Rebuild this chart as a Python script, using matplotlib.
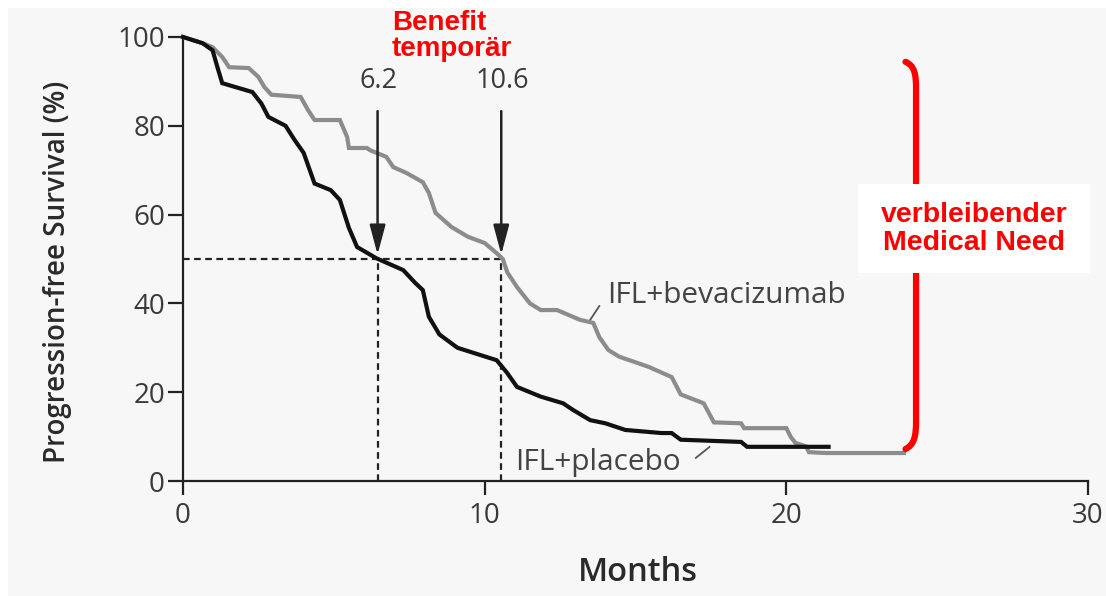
import matplotlib
matplotlib.use('Agg')
import matplotlib.pyplot as plt
from matplotlib.patches import Rectangle, PathPatch
from matplotlib.path import Path

# ---- data ----
months_beva = [0, 0.65, 0.98, 1.3, 1.53, 2.18, 2.5, 2.7, 2.93, 3.9, 4.14, 4.36, 5.2, 5.44, 5.5,
               6.1, 6.2, 6.74, 6.97, 7.4, 7.95, 8.15, 8.37, 8.9, 9.45, 10.0, 10.4, 10.6, 10.75,
               11.07, 11.5, 11.86, 12.4, 13.16, 13.6, 13.8, 14.1, 14.46, 15.44, 16.2, 16.5,
               17.26, 17.6, 18.5, 18.6, 20.0, 20.15, 20.3, 20.65, 20.75, 21.3, 23.9]
pfs_beva = [100, 98.6, 97.7, 95.5, 93.2, 93, 91, 88.7, 87, 86.5, 83.6, 81.3, 81.3, 77.5, 75,
            75, 74.5, 73, 70.7, 69.4, 67.3, 64.9, 60.4, 57.2, 55, 53.6, 51.3, 50, 47,
            43.7, 40, 38.5, 38.5, 36.3, 35.6, 32.4, 29.5, 28, 25.7, 23.4, 19.5,
            17.5, 13.2, 13, 11.9, 11.9, 9.9, 8.6, 7.8, 6.5, 6.3, 6.3]

months_plac = [0, 0.65, 0.98, 1.15, 1.3, 2.3, 2.6, 2.83, 3.4, 3.7, 4.0, 4.36, 4.9, 5.2, 5.5,
               5.77, 6.1, 6.4, 7.3, 7.7, 7.95, 8.15, 8.5, 9.1, 10.4, 10.75, 11.07, 11.86,
               12.6, 12.93, 13.5, 14.0, 14.66, 15.86, 16.2, 16.5, 18.5, 18.7, 21.4]
pfs_plac = [100, 98.6, 97, 93, 89.6, 87.6, 85, 82, 80, 76.8, 73.9, 67, 65.5, 63.3, 57,
            52.7, 51.4, 50.2, 47.5, 44.6, 43, 37, 33, 30, 27.2, 24.3, 21.2, 19,
            17.5, 16, 13.7, 13, 11.5, 10.8, 10.8, 9.3, 8.8, 7.7, 7.7]

median_labels = ['6.2', '10.6']
median_pos = [6.45, 10.55]
x_ticks = [0, 10, 20, 30]
y_ticks = [0, 20, 40, 60, 80, 100]

W, H = 1106, 596
fig = plt.figure(figsize=(W / 100, H / 100), dpi=100, facecolor='white')
fig.patches.append(Rectangle((8 / W, 0), 1, 1 - 8 / H, transform=fig.transFigure,
                             facecolor='#f7f7f7', edgecolor='none', zorder=-10))

x0, x1, y0, y1 = 183, 1088, 481, 37
ax = fig.add_axes([x0 / W, 1 - y0 / H, (x1 - x0) / W, (y0 - y1) / H])
ax.patch.set_alpha(0)

FONT = 'Open Sans'
txtc = '#3a3a3a'

ax.plot(months_beva, pfs_beva, color='#8c8c8c', lw=3.0, solid_joinstyle='miter', clip_on=False, zorder=3)
ax.plot(months_plac, pfs_plac, color='#111111', lw=3.0, solid_joinstyle='miter', clip_on=False, zorder=4)

# median dashed lines
ax.plot([0, median_pos[1]], [50, 50], color='#222', lw=1.6, ls=(0, (3, 2)), zorder=2)
for m in median_pos:
    ax.plot([m, m], [0, 50], color='#222', lw=1.6, ls=(0, (3, 2)), zorder=2)

# arrows + labels
for m, lab in zip(median_pos, median_labels):
    ax.annotate('', xy=(m, 51), xytext=(m, 83.3),
                arrowprops=dict(arrowstyle='-|>,head_length=1.2,head_width=0.32',
                                mutation_scale=15, lw=1.8, color='#222',
                                shrinkA=0, shrinkB=0), zorder=5)
    ax.text(m + 0.03, 90.2, lab, ha='center', va='center', fontsize=19.5,
            family=FONT, color=txtc)

# curve labels with leaders
ax.text(14.05, 40.1, 'IFL+bevacizumab', ha='left', va='baseline', fontsize=21.5,
        family=FONT, color='#444')
ax.plot([13.45, 13.8], [35.8, 39.4], color='#555', lw=1.3)
ax.text(11.0, 2.5, 'IFL+placebo', ha='left', va='baseline', fontsize=21.5,
        family=FONT, color='#444')
ax.plot([17.0, 17.45], [5.2, 7.66], color='#555', lw=1.3)

# axes styling
ax.set_xlim(0, 30)
ax.set_ylim(0, 100)
ax.set_xticks(x_ticks)
ax.set_yticks(y_ticks)
for s in ['top', 'right']:
    ax.spines[s].set_visible(False)
for s in ['left', 'bottom']:
    ax.spines[s].set_linewidth(1.6)
    ax.spines[s].set_color('#222')
ax.tick_params(axis='x', length=10, width=1.6, color='#222', pad=5,
               labelsize=20, labelcolor=txtc)
ax.tick_params(axis='y', length=11, width=1.6, color='#222', pad=2,
               labelsize=20, labelcolor=txtc)
for t in ax.get_xticklabels() + ax.get_yticklabels():
    t.set_family(FONT)

ax.set_ylabel('Progression-free Survival (%)', fontsize=20, family=FONT,
              weight='semibold', color='#2a2a2a')
ax.yaxis.set_label_coords(-0.139, 0.47)
ax.yaxis.label.set_va('center')
ax.set_xlabel('Months', fontsize=23.5, family=FONT, weight='semibold', color='#2a2a2a')
ax.xaxis.set_label_coords(0.503, -0.207)
ax.xaxis.label.set_va('center')

# red brace
verts = [(23.95, 94.4), (24.25, 93.6), (24.3, 91.5), (24.3, 88.5),
         (24.3, 13.5), (24.3, 10.2), (24.25, 8.2), (23.95, 7.2)]
codes = [Path.MOVETO, Path.CURVE4, Path.CURVE4, Path.CURVE4,
         Path.LINETO, Path.CURVE4, Path.CURVE4, Path.CURVE4]
ax.add_patch(PathPatch(Path(verts, codes), facecolor='none', edgecolor='#ff0000',
                       lw=4.5, capstyle='round', clip_on=False, zorder=6))

# white box with red text
fig.patches.append(Rectangle((858 / W, 1 - 273 / H), 232 / W, 89 / H,
                             transform=fig.transFigure, facecolor='white',
                             edgecolor='none', zorder=7))
fig.text(974 / W, 1 - 229 / H, 'verbleibender\nMedical Need', ha='center', va='center',
         fontsize=20.5, family='Liberation Sans', weight='bold', color='#ff0000',
         linespacing=1.1, zorder=8)
fig.text(392 / W, 1 - 36 / H, 'Benefit\ntemporär', ha='left', va='center',
         fontsize=20, family='Liberation Sans', weight='bold', color='#ff0000',
         linespacing=1.05, multialignment='left', zorder=8)

fig.savefig('out.png', dpi=100, facecolor=fig.get_facecolor())
